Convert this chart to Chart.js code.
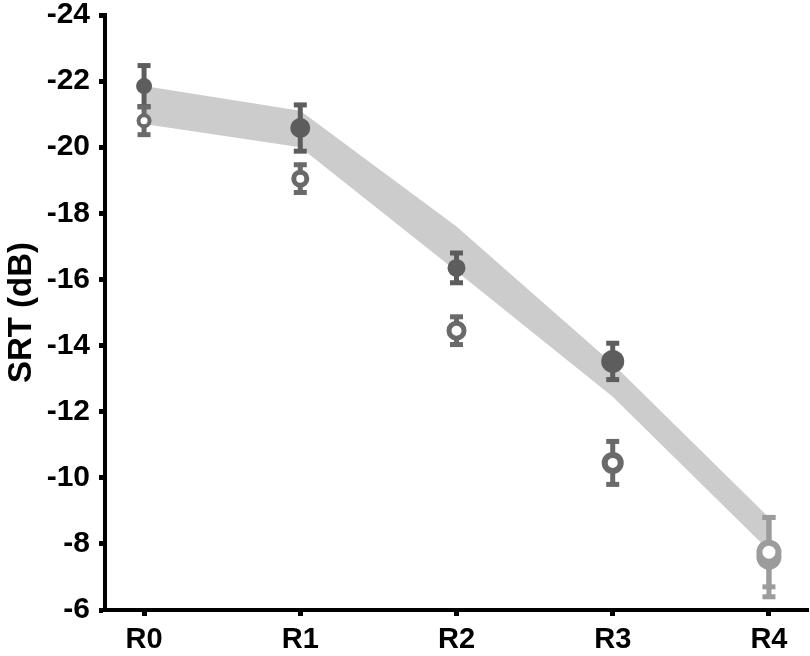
<!DOCTYPE html>
<html>
<head>
<meta charset="utf-8">
<script src="https://cdn.jsdelivr.net/npm/chart.js@4.4.0/dist/chart.umd.min.js"></script>
<style>
  html, body { margin: 0; padding: 0; background: #ffffff; }
  #wrap { width: 810px; height: 656px; position: relative; }
</style>
</head>
<body>
<div id="wrap"><canvas id="c" width="810" height="656"></canvas></div>
<script>
// ---- Data ----
const categories = ['R0', 'R1', 'R2', 'R3', 'R4'];
const yTickValues = [-24, -22, -20, -18, -16, -14, -12, -10, -8, -6];

// Grey band (upper / lower edges)
const bandUpper = [-21.85, -21.1, -17.6, -13.45, -8.8];
const bandLower = [-20.7, -20.0, -16.25, -12.45, -7.8];

// Filled markers: mean and error
const filledMean = [-21.85, -20.58, -16.35, -13.52, -7.6];
const filledErr  = [0.62, 0.7, 0.45, 0.55, 1.2];

// Open markers: mean and error
const openMean = [-20.8, -19.05, -14.45, -10.45, -7.75];
const openErr  = [0.42, 0.42, 0.42, 0.65, 1.05];

// ---- Styling ----
const FILLED_COL = ['#5d5d5d', '#5d5d5d', '#5d5d5d', '#5d5d5d', '#9c9c9c'];
const OPEN_COL   = ['#6a6a6a', '#6a6a6a', '#6a6a6a', '#6a6a6a', '#9c9c9c'];

const toXY = arr => arr.map((v, i) => ({ x: i, y: v }));

const errorBarPlugin = {
  id: 'errorBars',
  beforeDatasetDraw(chart, args) {
    const ds = chart.data.datasets[args.index];
    if (!ds.errors) return;
    const meta = chart.getDatasetMeta(args.index);
    const ys = chart.scales.y;
    const ctx = chart.ctx;
    ctx.save();
    meta.data.forEach((pt, i) => {
      const v = ds.data[i].y;
      const e = ds.errors[i];
      const col = ds.errColors[i];
      const x = pt.x;
      const y1 = ys.getPixelForValue(v - e);
      const y2 = ys.getPixelForValue(v + e);
      ctx.strokeStyle = col;
      ctx.fillStyle = col;
      ctx.lineWidth = 5;
      ctx.beginPath();
      ctx.moveTo(x, y1);
      ctx.lineTo(x, y2);
      ctx.stroke();
      const cw = 13, ch = 5;
      ctx.fillRect(x - cw / 2, y1 - ch / 2, cw, ch);
      ctx.fillRect(x - cw / 2, y2 - ch / 2, cw, ch);
    });
    ctx.restore();
  }
};

const ctx = document.getElementById('c').getContext('2d');
new Chart(ctx, {
  type: 'scatter',
  data: {
    datasets: [
      {
        label: 'open',
        data: toXY(openMean),
        errors: openErr,
        errColors: OPEN_COL,
        order: 0,
        showLine: false,
        pointRadius: [5.5, 6.5, 7.5, 8, 9.5],
        pointHoverRadius: [5.5, 6.5, 7.5, 8, 9.5],
        pointBorderWidth: [4, 5, 5, 6, 6],
        pointBackgroundColor: '#ffffff',
        pointBorderColor: OPEN_COL
      },
      {
        label: 'filled',
        data: toXY(filledMean),
        errors: filledErr,
        errColors: FILLED_COL,
        order: 1,
        showLine: false,
        pointRadius: [8, 10, 9, 11.5, 12.5],
        pointHoverRadius: [8, 10, 9, 11.5, 12.5],
        pointBorderWidth: 0,
        pointBackgroundColor: FILLED_COL,
        pointBorderColor: FILLED_COL
      },
      {
        label: 'bandUpper',
        data: toXY(bandUpper),
        order: 3,
        showLine: true,
        borderWidth: 0,
        borderColor: 'rgba(0,0,0,0)',
        pointRadius: 0,
        pointHoverRadius: 0,
        backgroundColor: '#cccccc',
        fill: '+1'
      },
      {
        label: 'bandLower',
        data: toXY(bandLower),
        order: 4,
        showLine: true,
        borderWidth: 0,
        borderColor: 'rgba(0,0,0,0)',
        pointRadius: 0,
        pointHoverRadius: 0,
        fill: false
      }
    ]
  },
  options: {
    responsive: false,
    animation: false,
    events: [],
    layout: { autoPadding: false, padding: { left: 0, right: 2, top: 15, bottom: 0 } },
    plugins: {
      legend: { display: false },
      tooltip: { enabled: false }
    },
    scales: {
      x: {
        type: 'linear',
        min: -0.25,
        max: 4.25,
        afterBuildTicks: s => { s.ticks = categories.map((_, i) => ({ value: i })); },
        afterFit: s => { s.height = 46; s.paddingLeft = 0; s.paddingRight = 0; },
        ticks: {
          callback: v => categories[v],
          color: '#000',
          font: { family: 'Liberation Sans', size: 29, weight: 'bold' },
          padding: 7,
          maxRotation: 0,
          autoSkip: false
        },
        grid: { display: true, drawOnChartArea: false, drawTicks: true, tickLength: 6, tickWidth: 5, tickColor: '#000' },
        border: { display: true, color: '#000', width: 4 }
      },
      y: {
        type: 'linear',
        reverse: true,
        min: -24,
        max: -6,
        afterBuildTicks: s => { s.ticks = yTickValues.map(v => ({ value: v })); },
        afterFit: s => { s.width = 105; s.paddingTop = 0; s.paddingBottom = 0; },
        ticks: {
          callback: v => String(v),
          color: '#000',
          font: { family: 'Liberation Sans', size: 30, weight: 'bold' },
          padding: 9
        },
        title: {
          display: true,
          text: 'SRT (dB)',
          color: '#000',
          font: { family: 'Liberation Sans', size: 33, weight: 'bold' },
          padding: { top: 2, bottom: 0 }
        },
        grid: { display: true, drawOnChartArea: false, drawTicks: true, tickLength: 6, tickWidth: 5, tickColor: '#000' },
        border: { display: true, color: '#000', width: 4 }
      }
    }
  },
  plugins: [errorBarPlugin]
});
</script>
</body>
</html>
